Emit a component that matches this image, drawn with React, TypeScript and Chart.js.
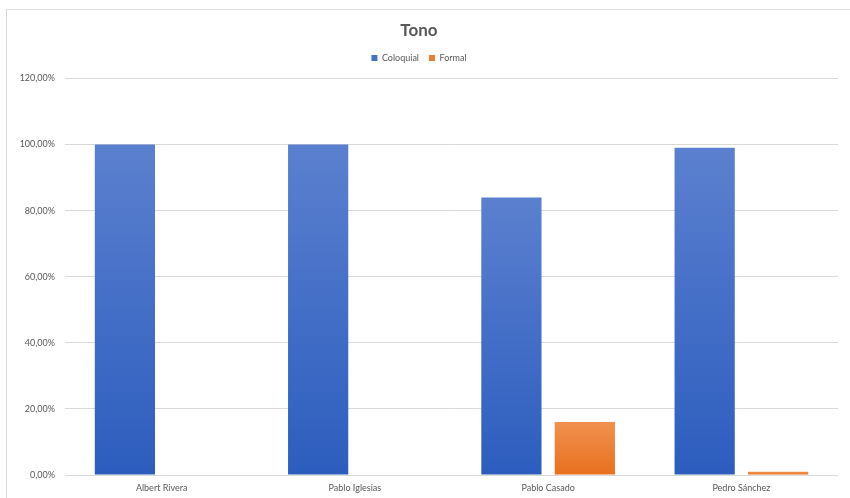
import React, { useEffect, useRef } from "react";
import { Chart, registerables } from "chart.js";

Chart.register(...registerables);

const categories = ["Albert Rivera", "Pablo Iglesias", "Pablo Casado", "Pedro Sánchez"];
const coloquial = [100, 100, 84, 99];
const formal = [0, 0, 16, 1];
const yTicks = [0, 20, 40, 60, 80, 100, 120];

const FONT = "Lato, 'Open Sans', sans-serif";

function barGradient(top: string, bottom: string, flat: string) {
  return (ctx: any) => {
    const chart = ctx.chart;
    const y = chart.scales?.y;
    if (!chart.chartArea || !y || ctx.parsed == null) return flat;
    const yTop = y.getPixelForValue(ctx.parsed.y);
    const yBot = y.getPixelForValue(0);
    if (!isFinite(yTop) || !isFinite(yBot) || yBot - yTop < 1) return flat;
    const g = chart.ctx.createLinearGradient(0, yTop, 0, yBot);
    g.addColorStop(0, top);
    g.addColorStop(1, bottom);
    return g;
  };
}

const legendGap = {
  id: "legendGap",
  afterInit(chart: any) {
    const lg = chart.legend;
    if (!lg) return;
    const orig = lg.fit;
    lg.fit = function (this: any) {
      orig.call(this);
      this.height += 6;
    };
  },
};

export default function App() {
  const ref = useRef<HTMLCanvasElement | null>(null);

  useEffect(() => {
    if (!ref.current) return;
    const chart = new Chart(ref.current, {
      type: "bar",
      data: {
        labels: categories,
        datasets: [
          {
            label: "Coloquial",
            data: coloquial,
            backgroundColor: barGradient("#5b80cf", "#2c5dbe", "#4472c4"),
            categoryPercentage: 0.76,
            barPercentage: 0.82,
          },
          {
            label: "Formal",
            data: formal,
            backgroundColor: barGradient("#f1914f", "#e8701e", "#ed7d31"),
            categoryPercentage: 0.76,
            barPercentage: 0.82,
          },
        ],
      },
      options: {
        responsive: false,
        animation: false,
        layout: { padding: { left: 0, right: 12, top: 10, bottom: 0 } },
        plugins: {
          title: {
            display: true,
            text: "Tono",
            color: "#595959",
            font: { family: FONT, size: 17, weight: "bold" },
            padding: { top: 10, bottom: 3 },
          },
          legend: {
            display: true,
            labels: {
              color: "#595959",
              font: { family: FONT, size: 9 },
              boxWidth: 6,
              boxHeight: 6,
              padding: 10,
              generateLabels: (c: any) =>
                c.data.datasets.map((ds: any, i: number) => ({
                  text: ds.label,
                  fillStyle: i === 0 ? "#4472c4" : "#ed7d31",
                  strokeStyle: i === 0 ? "#4472c4" : "#ed7d31",
                  lineWidth: 0,
                  datasetIndex: i,
                  fontColor: "#595959",
                })),
            },
          },
          tooltip: { enabled: false },
        },
        scales: {
          x: {
            grid: { display: false, drawTicks: false },
            border: { display: false },
            ticks: { color: "#595959", font: { family: FONT, size: 9 }, padding: 8 },
            afterFit: (s: any) => {
              s.height = 23;
            },
          },
          y: {
            min: 0,
            max: 120,
            afterBuildTicks: (s: any) => {
              s.ticks = yTicks.map((v) => ({ value: v }));
            },
            grid: { color: "#d9d9d9", drawTicks: false, lineWidth: 1 },
            border: { display: false },
            ticks: {
              color: "#595959",
              font: { family: FONT, size: 9 },
              padding: 10,
              callback: (v: any) => Number(v).toFixed(2).replace(".", ",") + "%",
            },
            afterFit: (s: any) => {
              s.width = 65;
            },
          },
        },
      },
      plugins: [legendGap],
    } as any);
    return () => chart.destroy();
  }, []);

  return (
    <div style={{ position: "absolute", left: 0, top: 0, width: 850, height: 498, background: "#fff" }}>
      <div
        style={{
          position: "absolute",
          left: 6,
          top: 9,
          width: 844,
          height: 489,
          borderLeft: "1px solid #dcd6d6",
          borderTop: "1px solid #e2e2e2",
          boxSizing: "border-box",
        }}
      />
      <canvas ref={ref} width={850} height={498} style={{ position: "absolute", left: 0, top: 0 }} />
    </div>
  );
}
